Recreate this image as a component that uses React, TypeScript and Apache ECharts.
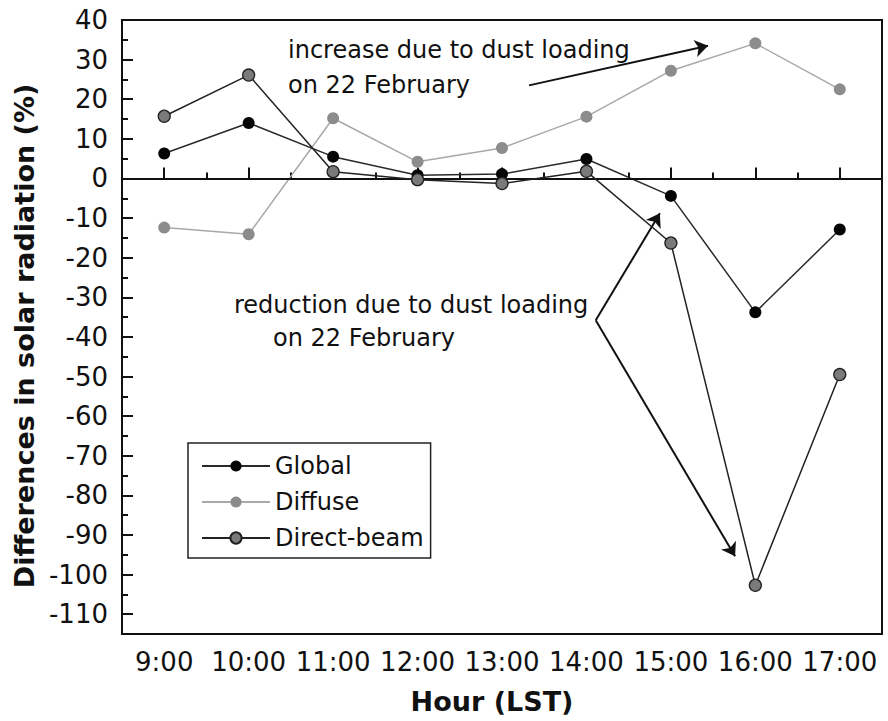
import React, { useEffect, useRef } from "react";
import * as echarts from "echarts";

// ---- data ----
const hours = [9, 10, 11, 12, 13, 14, 15, 16, 17];
const hourLabels = ["9:00", "10:00", "11:00", "12:00", "13:00", "14:00", "15:00", "16:00", "17:00"];
const globalValues = [6.3, 14.0, 5.5, 0.8, 1.1, 4.9, -4.4, -33.8, -12.9];
const diffuseValues = [-12.4, -14.1, 15.2, 4.2, 7.7, 15.6, 27.2, 34.1, 22.5];
const directBeamValues = [15.7, 26.1, 1.7, -0.3, -1.3, 1.8, -16.3, -102.7, -49.5];
const yTickValues = [40, 30, 20, 10, 0, -10, -20, -30, -40, -50, -60, -70, -80, -90, -100, -110];
const yMinorTickValues = [35, 25, 15, 5, -5, -15, -25, -35, -45, -55, -65, -75, -85, -95, -105];
const xMinorTickValues = [9.5, 10.5, 11.5, 12.5, 13.5, 14.5, 15.5, 16.5];

const FONT = '"DejaVu Sans", "Liberation Sans", sans-serif';

const pairs = (vals: number[]) => hours.map((h, i) => [h, vals[i]]);

export default function App() {
  const ref = useRef<HTMLDivElement>(null);
  useEffect(() => {
    if (!ref.current) return;
    const chart = echarts.init(ref.current, undefined, { renderer: "svg" });
    const axisCommon = {
      type: "value" as const,
      axisLine: { show: false },
      splitLine: { show: false },
    };
    chart.setOption({
      animation: false,
      backgroundColor: "#ffffff",
      grid: {
        left: 122,
        top: 20,
        right: 6,
        bottom: 87,
        show: true,
        borderColor: "#111",
        borderWidth: 2,
        backgroundColor: "transparent",
      },
      xAxis: [
        {
          ...axisCommon,
          min: 8.5,
          max: 17.5,
          name: "Hour (LST)",
          nameLocation: "middle",
          nameGap: 54,
          nameTextStyle: {
            fontFamily: FONT,
            fontWeight: "bold",
            fontSize: 27,
            color: "#111",
            padding: [0, 20, 0, 0],
          },
          axisTick: {
            show: true,
            inside: true,
            length: 11,
            customValues: hours,
            lineStyle: { color: "#111", width: 2 },
          },
          axisLabel: {
            customValues: hours,
            margin: 15,
            fontFamily: FONT,
            fontSize: 26,
            color: "#111",
            formatter: (v: number) => {
              const i = hours.indexOf(Math.round(v * 100) / 100);
              return i >= 0 ? hourLabels[i] : "";
            },
          },
        },
        {
          ...axisCommon,
          min: 8.5,
          max: 17.5,
          position: "bottom",
          axisTick: {
            show: true,
            inside: true,
            length: 6,
            customValues: xMinorTickValues,
            lineStyle: { color: "#111", width: 2 },
          },
          axisLabel: { show: false },
        },
      ],
      yAxis: [
        {
          ...axisCommon,
          min: -115,
          max: 40,
          name: "Differences in solar radiation (%)",
          nameLocation: "middle",
          nameGap: 84,
          nameTextStyle: {
            fontFamily: FONT,
            fontWeight: "bold",
            fontSize: 27,
            color: "#111",
            padding: [0, 18, 0, 0],
          },
          axisTick: {
            show: true,
            inside: true,
            length: 11,
            customValues: yTickValues,
            lineStyle: { color: "#111", width: 2 },
          },
          axisLabel: {
            customValues: yTickValues,
            margin: 14,
            fontFamily: FONT,
            fontSize: 26,
            color: "#111",
          },
        },
        {
          ...axisCommon,
          min: -115,
          max: 40,
          position: "left",
          axisTick: {
            show: true,
            inside: true,
            length: 6,
            customValues: yMinorTickValues,
            lineStyle: { color: "#111", width: 2 },
          },
          axisLabel: { show: false },
        },
      ],
      legend: {
        left: 188,
        top: 443,
        orient: "vertical",
        data: ["Global", "Diffuse", "Direct-beam"],
        itemWidth: 68,
        itemHeight: 14,
        itemGap: 12,
        padding: [11, 7, 8, 13],
        borderColor: "#222",
        borderWidth: 1.5,
        backgroundColor: "#fff",
        textStyle: { fontFamily: FONT, fontSize: 24, color: "#111", lineHeight: 24 },
      },
      series: [
        {
          name: "Diffuse",
          type: "line",
          data: pairs(diffuseValues),
          symbol: "circle",
          symbolSize: 12,
          lineStyle: { color: "#a8a8a8", width: 1.5 },
          itemStyle: { color: "#8c8c8c", borderColor: "#8c8c8c", borderWidth: 0 },
          markLine: {
            silent: true,
            symbol: "none",
            label: { show: false },
            lineStyle: { color: "#111", width: 2, type: "solid" },
            data: [{ yAxis: 0 }],
          },
          z: 3,
        },
        {
          name: "Global",
          type: "line",
          data: pairs(globalValues),
          symbol: "circle",
          symbolSize: 12,
          lineStyle: { color: "#2a2a2a", width: 1.5 },
          itemStyle: { color: "#050505", borderColor: "#050505", borderWidth: 0 },
          markLine: {
            silent: true,
            symbol: ["none", "arrow"],
            symbolSize: 13,
            label: { show: false },
            lineStyle: { color: "#111", width: 2, type: "solid" },
            data: [
              [{ coord: [13.32, 23.5] }, { coord: [15.44, 33.5] }],
              [{ coord: [14.11, -35.8] }, { coord: [14.87, -8.8] }],
              [{ coord: [14.11, -35.8] }, { coord: [15.76, -95.4] }],
            ],
          },
          z: 4,
        },
        {
          name: "Direct-beam",
          type: "line",
          data: pairs(directBeamValues),
          symbol: "circle",
          symbolSize: 12,
          lineStyle: { color: "#222", width: 1.5 },
          itemStyle: { color: "#7a7a7a", borderColor: "#222", borderWidth: 1.3 },
          z: 5,
        },
      ],
      graphic: [
        {
          type: "text",
          x: 288,
          y: 50,
          style: { text: "increase due to dust loading", font: `24px ${FONT}`, fill: "#111", verticalAlign: "middle" },
        },
        {
          type: "text",
          x: 288,
          y: 85,
          style: { text: "on 22 February", font: `24px ${FONT}`, fill: "#111", verticalAlign: "middle" },
        },
        {
          type: "text",
          x: 234,
          y: 305,
          style: { text: "reduction due to dust loading", font: `24px ${FONT}`, fill: "#111", verticalAlign: "middle" },
        },
        {
          type: "text",
          x: 273,
          y: 338,
          style: { text: "on 22 February", font: `24px ${FONT}`, fill: "#111", verticalAlign: "middle" },
        },
      ],
    });
    return () => chart.dispose();
  }, []);
  return (
    <div
      ref={ref}
      style={{ position: "fixed", left: 0, top: 0, width: 888, height: 721, background: "#fff" }}
    />
  );
}
